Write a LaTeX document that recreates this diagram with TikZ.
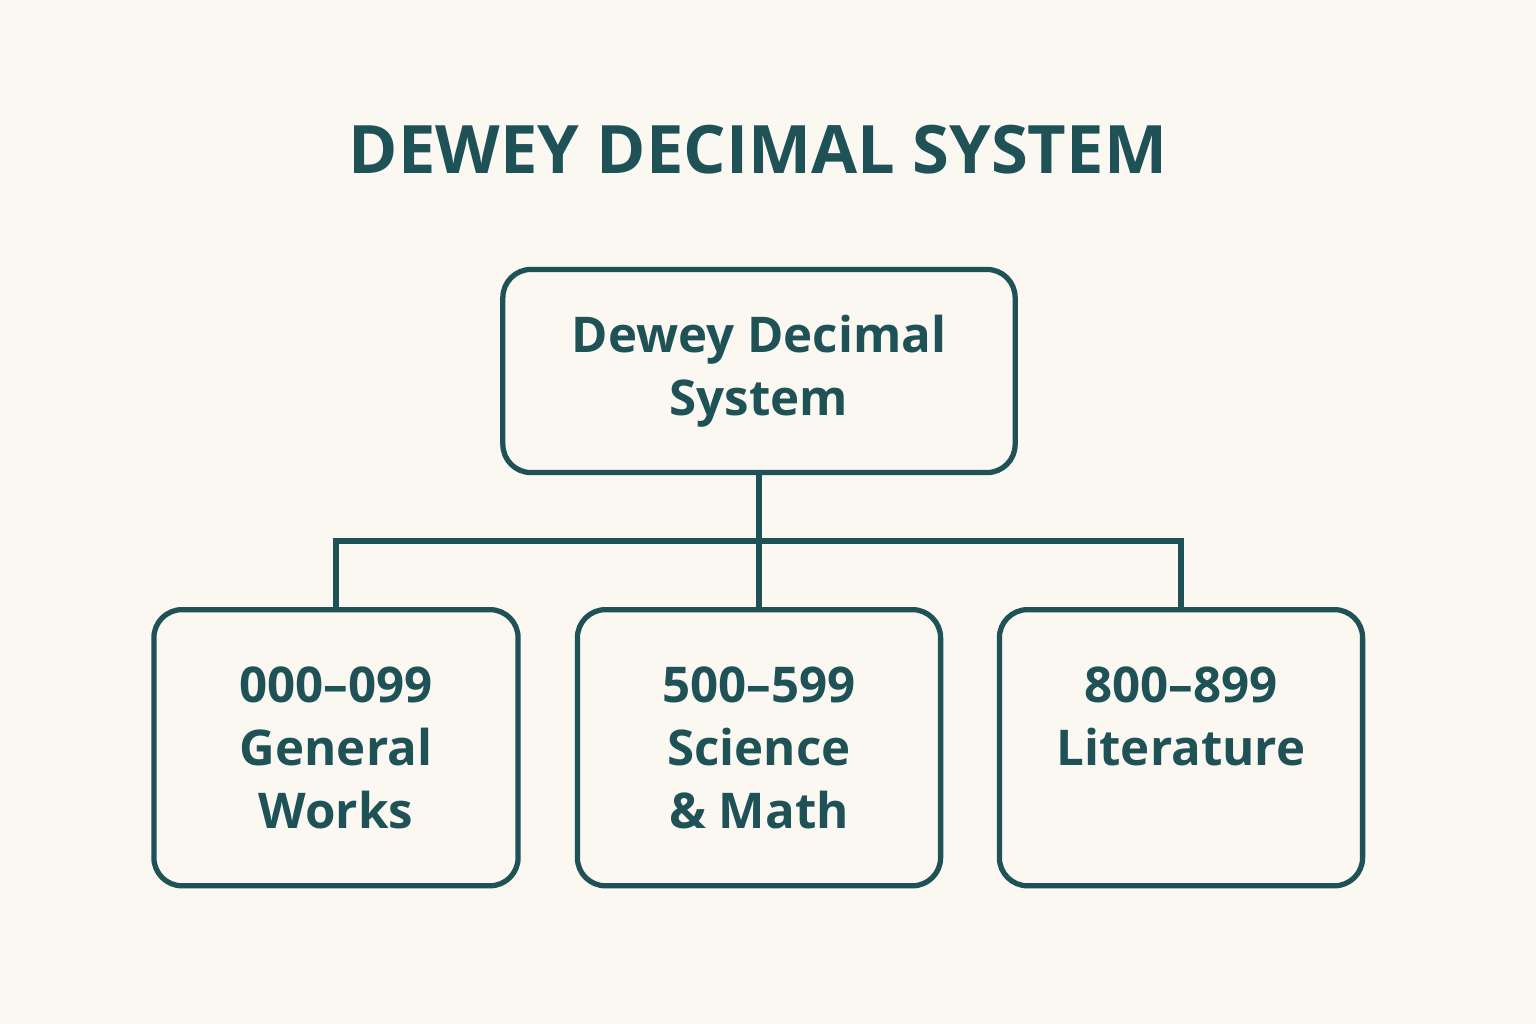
\documentclass[tikz,border=0pt]{standalone}
\usepackage{fontspec}
\setmainfont{Open Sans}
\usetikzlibrary{positioning}
\definecolor{teal}{HTML}{1E5257}
\definecolor{paper}{HTML}{FBF8F2}

\begin{document}
\begin{tikzpicture}[x=0.01cm,y=-0.01cm]
 \tikzstyle{classbox} = [draw=teal,line width=1.5pt,rounded corners=8pt,fill=paper,align=center,
   text=teal,font=\fontsize{14}{17.9}\selectfont\bfseries,inner sep=0pt]
 \tikzstyle{bus} = [draw=teal,line width=1.5pt]

% Background and frame
 \fill[paper] (0,0) rectangle (1536,1024);
 \useasboundingbox (0,0) rectangle (1536,1024);

% Title
 \node[text=teal,font=\fontsize{19}{22}\selectfont\bfseries] (title) at (758,150) {DEWEY DECIMAL SYSTEM};

% Boxes
 \node[classbox,minimum width=5.12cm,minimum height=2.03cm] (root) at (759,371) {Dewey Decimal\\System};
 \node[classbox,minimum width=3.64cm,minimum height=2.76cm,anchor=north] (gen) at (336,607) {000--099\\General\\Works};
 \node[classbox,minimum width=3.63cm,minimum height=2.76cm,anchor=north] (sci) at (759,607) {500--599\\Science\\\& Math};
 \node[classbox,minimum width=3.63cm,minimum height=2.76cm,anchor=north,text depth=0.63cm] (lit) at (1181,607) {800--899\\Literature};

% Connectors
 \coordinate (bus) at (759,541);
 \draw[bus] (root.south) -- (sci.north);
 \draw[bus] (gen.north) |- (bus) -| (lit.north);
\end{tikzpicture}
\end{document}
